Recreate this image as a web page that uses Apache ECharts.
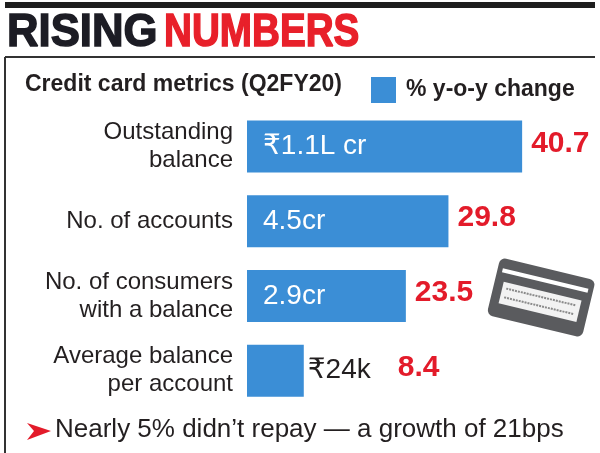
<!DOCTYPE html>
<html>
<head>
<meta charset="utf-8">
<title>Rising numbers</title>
<script src="https://cdn.jsdelivr.net/npm/echarts@6/dist/echarts.min.js"></script>
<style>
  html, body { margin: 0; padding: 0; background: #fff; }
  #chart { width: 600px; height: 453px; }
</style>
</head>
<body>
<div id="chart"></div>
<script>
// credit card metrics, Q2FY20
var categories = ['Outstanding\nbalance', 'No. of accounts', 'No. of consumers\nwith a balance', 'Average balance\nper account'];
var yoyChange = [40.7, 29.8, 23.5, 8.4];
var amounts = ['₹1.1L cr', '4.5cr', '2.9cr', '₹24k'];

var BLUE = '#3b8ed6';
var RED = '#e31b2a';
var INK = '#231f20';
var FONT = '"Liberation Sans", "DejaVu Sans", sans-serif';

var myChart = echarts.init(document.getElementById('chart'));

// bar data: the last bar is too short for its amount, so that label sits outside
var barData = yoyChange.map(function (v, i) {
    var item = { value: v };
    if (i === yoyChange.length - 1) {
        item.label = { position: 'right', distance: 4, color: INK };
    }
    return item;
});
var pctData = yoyChange.map(function (v, i) {
    var item = { value: v };
    if (i === yoyChange.length - 1) {
        item.label = { distance: 94 };
    }
    return item;
});

var option = {
    animation: false,
    textStyle: { fontFamily: FONT },
    legend: {
        left: 366,
        top: 72,
        itemWidth: 25,
        itemHeight: 26,
        icon: 'rect',
        selectedMode: false,
        data: ['% y-o-y change'],
        textStyle: { fontFamily: FONT, fontSize: 23, fontWeight: 'bold', color: INK, padding: [0, 0, 0, 5] }
    },
    grid: { left: 247, top: 109, width: 338, height: 299 },
    xAxis: { type: 'value', min: 0, max: 50, show: false },
    yAxis: {
        type: 'category',
        inverse: true,
        data: categories,
        axisLine: { show: false },
        axisTick: { show: false },
        axisLabel: { margin: 14, fontFamily: FONT, fontSize: 24, lineHeight: 28, color: INK, align: 'right' }
    },
    series: [
        {
            name: '% y-o-y change',
            type: 'bar',
            barWidth: 52,
            itemStyle: { color: BLUE },
            label: {
                show: true,
                position: 'insideLeft',
                distance: 16,
                fontFamily: FONT,
                fontSize: 28,
                color: '#fff',
                formatter: function (p) { return amounts[p.dataIndex]; }
            },
            data: barData
        },
        {
            name: 'pct',
            type: 'bar',
            barWidth: 52,
            barGap: '-100%',
            silent: true,
            itemStyle: { color: 'rgba(0,0,0,0)' },
            label: {
                show: true,
                position: 'right',
                distance: 9,
                offset: [0, -3],
                fontFamily: FONT,
                fontSize: 30,
                fontWeight: 'bold',
                color: RED,
                formatter: function (p) { return p.value.toFixed(1); }
            },
            data: pctData
        }
    ],
    graphic: [
        // top rule and frame
        { type: 'rect', shape: { x: 5, y: 2, width: 590, height: 6 }, style: { fill: '#1e1e1e' } },
        { type: 'line', shape: { x1: 5, y1: 57, x2: 595, y2: 57 }, style: { stroke: '#333', lineWidth: 2 } },
        { type: 'line', shape: { x1: 5, y1: 57, x2: 5, y2: 453 }, style: { stroke: '#333', lineWidth: 2 } },
        // headline (stroked a little to get the heavy poster weight)
        {
            type: 'text', x: 7, y: 33, scaleX: 0.95,
            style: { text: 'RISING', fontFamily: FONT, fontSize: 46, fontWeight: 'bold', fill: '#1c1c24', stroke: '#1c1c24', lineWidth: 1.5, verticalAlign: 'middle' }
        },
        {
            type: 'text', x: 164, y: 33, scaleX: 0.84,
            style: { text: 'NUMBERS', fontFamily: FONT, fontSize: 46, fontWeight: 'bold', fill: '#e8202a', stroke: '#e8202a', lineWidth: 1.5, verticalAlign: 'middle' }
        },
        {
            type: 'text', x: 25, y: 85,
            style: { text: 'Credit card metrics (Q2FY20)', fontFamily: FONT, fontSize: 23, fontWeight: 'bold', fill: INK, verticalAlign: 'middle' }
        },
        // credit card icon
        {
            type: 'group', x: 541, y: 298, rotation: -0.236,
            children: [
                { type: 'rect', shape: { x: -49, y: -30, width: 98, height: 59, r: 6 }, style: { fill: '#5a5b5e' } },
                { type: 'rect', shape: { x: -44, y: -20, width: 88, height: 4 }, style: { fill: '#fff' } },
                { type: 'rect', shape: { x: -40, y: -7, width: 80, height: 22 }, style: { fill: '#f2f2f2' } },
                { type: 'line', shape: { x1: -36, y1: -1, x2: 36, y2: -1 }, style: { stroke: '#8a8a8a', lineWidth: 2, lineDash: [2, 1] } },
                { type: 'line', shape: { x1: -36, y1: 8, x2: 36, y2: 8 }, style: { stroke: '#8a8a8a', lineWidth: 2, lineDash: [2, 1] } }
            ]
        },
        // footnote
        { type: 'polygon', shape: { points: [[27, 423], [51, 431], [27, 440], [34, 431]] }, style: { fill: RED } },
        {
            type: 'text', x: 55, y: 430,
            style: { text: 'Nearly 5% didn\u2019t repay \u2014 a growth of 21bps', fontFamily: FONT, fontSize: 26, fill: INK, verticalAlign: 'middle' }
        }
    ]
};

myChart.setOption(option);
</script>
</body>
</html>
